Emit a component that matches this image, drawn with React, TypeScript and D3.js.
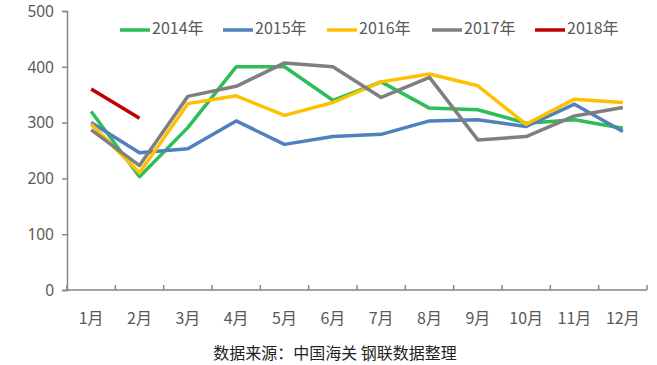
import React, { useEffect, useRef } from 'react';
import * as d3 from 'd3';

const months = ['1月', '2月', '3月', '4月', '5月', '6月', '7月', '8月', '9月', '10月', '11月', '12月'];
const yTicks = [0, 100, 200, 300, 400, 500];

const s2014 = [320, 203, 291, 400, 400, 340, 373, 326, 323, 299, 305, 290];
const s2015 = [300, 246, 253, 303, 261, 275, 279, 303, 305, 293, 333, 284];
const s2016 = [297, 210, 334, 348, 313, 336, 373, 387, 366, 297, 342, 336];
const s2017 = [287, 223, 347, 365, 407, 400, 345, 381, 269, 275, 312, 327];
const s2018 = [360, 308];

const seriesNames = ['2014年', '2015年', '2016年', '2017年', '2018年'];
const seriesColors = ['#2DBE58', '#4E81BD', '#FFC000', '#7F7F7F', '#C00000'];
const sourceText = '数据来源：中国海关 钢联数据整理';

export default function App() {
    const svgRef = useRef<SVGSVGElement>(null);

    useEffect(() => {
        if (!svgRef.current) return;
        const width = 657;
        const height = 365;
        const margin = { top: 11, right: 10, bottom: 75, left: 67 };
        const innerWidth = width - margin.left - margin.right;
        const innerHeight = height - margin.top - margin.bottom;
        const font = '"Noto Sans CJK SC", "Noto Sans", sans-serif';
        const axisColor = '#868686';
        const textColor = '#595959';

        const svg = d3.select(svgRef.current);
        svg.selectAll('*').remove();
        svg.attr('width', width).attr('height', height);

        const g = svg.append('g').attr('transform', `translate(${margin.left},${margin.top})`);

        const x = d3.scaleBand<string>().domain(months).range([0, innerWidth]);
        const y = d3.scaleLinear().domain([0, 500]).range([innerHeight, 0]);

        // y axis
        const yAxis = g.append('g').call(d3.axisLeft(y).tickValues(yTicks).tickSize(5).tickPadding(8));
        yAxis.select('.domain').attr('stroke', axisColor).attr('stroke-width', 1.5);
        yAxis.selectAll('.tick line').attr('stroke', axisColor).attr('stroke-width', 1.5);
        yAxis.selectAll('.tick text')
            .attr('fill', textColor).attr('font-size', 15.5).attr('font-family', '"Noto Sans", sans-serif')
            .attr('dy', '0.34em');

        // x axis
        const xAxisG = g.append('g').attr('transform', `translate(0,${innerHeight})`);
        xAxisG.append('line')
            .attr('x1', 0).attr('x2', innerWidth)
            .attr('stroke', axisColor).attr('stroke-width', 1.5);
        const bounds = months.map((m) => (x(m) ?? 0) + x.bandwidth()).concat([0]);
        xAxisG.selectAll('line.tk').data(bounds).enter().append('line')
            .attr('class', 'tk')
            .attr('x1', d => d).attr('x2', d => d)
            .attr('y1', 0).attr('y2', -5)
            .attr('stroke', axisColor).attr('stroke-width', 1.5);
        xAxisG.selectAll('text').data(months).enter().append('text')
            .attr('x', d => (x(d) ?? 0) + x.bandwidth() / 2)
            .attr('y', 30)
            .attr('text-anchor', 'middle')
            .attr('dominant-baseline', 'middle')
            .attr('fill', textColor).attr('font-size', 16).attr('font-family', font)
            .text(d => d);

        const allSeries = [s2014, s2015, s2016, s2017, s2018];
        const line = d3.line<number>()
            .x((_, i) => (x(months[i]) ?? 0) + x.bandwidth() / 2)
            .y(d => y(d));

        allSeries.forEach((s, i) => {
            g.append('path')
                .datum(s)
                .attr('fill', 'none')
                .attr('stroke', seriesColors[i])
                .attr('stroke-width', 3.5)
                .attr('stroke-linejoin', 'round')
                .attr('d', line);
        });

        // legend
        const legendX = [120, 223, 327, 432, 535];
        const legend = svg.append('g');
        seriesNames.forEach((name, i) => {
            legend.append('line')
                .attr('x1', legendX[i]).attr('x2', legendX[i] + 30)
                .attr('y1', 30).attr('y2', 30)
                .attr('stroke', seriesColors[i]).attr('stroke-width', 3.5);
            legend.append('text')
                .attr('x', legendX[i] + 32).attr('y', 30)
                .attr('dominant-baseline', 'middle')
                .attr('fill', textColor).attr('font-size', 16).attr('font-family', font)
                .text(name);
        });

        svg.append('text')
            .attr('x', 335).attr('y', 355)
            .attr('text-anchor', 'middle')
            .attr('dominant-baseline', 'middle')
            .attr('fill', '#222').attr('font-size', 16).attr('font-family', font)
            .text(sourceText);
    }, []);

    return (
        <svg ref={svgRef} style={{ position: 'absolute', left: 0, top: 0, background: '#fff' }} />
    );
}
